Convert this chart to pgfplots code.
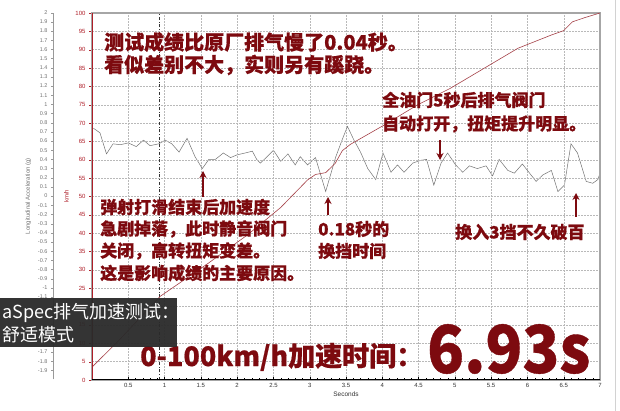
\documentclass[border=0pt]{standalone}
\usepackage{pgfplots}
\pgfplotsset{compat=1.18}
\usetikzlibrary{arrows.meta}
\usepackage{fontspec}
\setmainfont{Liberation Sans}
\newfontfamily\cjk{Noto Sans CJK SC}
\newfontfamily\cjkb{Noto Sans CJK SC}[BoldFeatures={FakeBold=0.6}]

\definecolor{anno}{RGB}{125,10,15}
\definecolor{speed}{RGB}{165,65,72}
\definecolor{axred}{RGB}{175,30,40}
\definecolor{boxgray}{RGB}{42,42,42}

\begin{document}
\begin{tikzpicture}
\useasboundingbox (0,0) rectangle (620pt,411pt);
\fill[white] (0,0) rectangle (620pt,411pt);

% acceleration axis (g)
\begin{axis}[
    at={(53pt,31.5pt)}, anchor=south west, scale only axis,
    width=547pt, height=366.8pt,
    xmin=-0.537, xmax=7, ymin=-2, ymax=2,
    axis x line=none, axis y line*=left,
    axis line style={gray!80, -},
    ytick={-1.9,-1.8,-1.7,-1.6,-1.5,-1.4,-1.3,-1.2,-1.1,-1,-0.9,-0.8,-0.7,-0.6,-0.5,-0.4,-0.3,-0.2,-0.1,0,0.1,0.2,0.3,0.4,0.5,0.6,0.7,0.8,0.9,1,1.1,1.2,1.3,1.4,1.5,1.6,1.7,1.8,1.9,2},
    yticklabel={\ifdim\tick pt<-1.15pt\ifdim\tick pt>-1.65pt\else\pgfmathprintnumber{\tick}\fi\else\pgfmathprintnumber{\tick}\fi},
    ytick align=outside, major tick length=2pt,
    tick style={gray!80},
    /pgf/number format/assume math mode=true,
    yticklabel style={font=\fontsize{5.5}{6}\selectfont, text=gray!90!black},
    ylabel={Longitudinal Acceleration (g)},
    ylabel style={font=\fontsize{6}{7}\selectfont, text=gray!90!black},
]
\addplot[gray!90!black, line width=0.5pt] coordinates {
(0.02,0.74) (0.11,0.69) (0.20,0.46) (0.29,0.57) (0.39,0.56) (0.50,0.58)
(0.61,0.54) (0.71,0.61) (0.80,0.55) (0.92,0.57) (1.01,0.61) (1.10,0.57)
(1.20,0.48) (1.31,0.63) (1.42,0.43) (1.52,0.30) (1.61,0.40) (1.70,0.40)
(1.81,0.47) (1.91,0.42) (2.00,0.45) (2.11,0.47) (2.21,0.49) (2.27,0.40)
(2.32,0.36) (2.40,0.42) (2.50,0.50) (2.60,0.38) (2.70,0.46) (2.80,0.34)
(2.87,0.43) (2.97,0.34) (3.08,0.42) (3.22,0.05) (3.36,0.43) (3.45,0.62)
(3.52,0.76) (3.61,0.61) (3.70,0.48) (3.80,0.30) (3.91,0.18) (4.01,0.47)
(4.12,0.26) (4.21,0.34) (4.30,0.26) (4.42,0.36) (4.53,0.39) (4.61,0.40)
(4.71,0.12) (4.81,0.36) (4.90,0.47) (5.01,0.34) (5.11,0.26) (5.20,0.33)
(5.31,0.30) (5.43,0.33) (5.52,0.22) (5.61,0.40) (5.73,0.28) (5.82,0.25)
(5.93,0.35) (6.03,0.25) (6.12,0.16) (6.21,0.23) (6.33,0.28) (6.42,0.05)
(6.51,0.12) (6.60,0.57) (6.69,0.47) (6.81,0.16) (6.90,0.14) (6.97,0.18)
(7.00,0.25)
};
\end{axis}

% speed axis (km/h)
\begin{axis}[
    at={(92pt,31pt)}, anchor=south west, scale only axis,
    width=508pt, height=367pt,
    xmin=0, xmax=7, ymin=0, ymax=100,
    axis line style={draw=gray!70, line width=1.4pt},
    xtick={0.5,1,...,7}, ytick={0,5,...,100},
    minor x tick num=4,
    xtick pos=lower, ytick pos=left,
    xtick align=inside, ytick align=outside,
    major tick length=3pt, minor tick length=2pt,
    x tick style={black}, y tick style={axred},
    grid=major,
    major grid style={gray!55, dash pattern=on 1.5pt off 1.5pt},
    /pgf/number format/assume math mode=true,
    xticklabel style={font=\fontsize{6}{7}\selectfont, text=black!80},
    yticklabel style={font=\fontsize{6}{7}\selectfont, text=axred},
    xlabel={Seconds},
    xlabel style={font=\fontsize{6.5}{7}\selectfont, text=black!80, yshift=3pt},
    ylabel={km/h},
    ylabel style={font=\fontsize{6}{7}\selectfont, text=axred},
]
\addplot[black!80, line width=0.5pt, dash dot] coordinates {(0.93,0) (0.93,100)};
\addplot[speed, line width=0.6pt] coordinates {
(0,3.5) (0.38,11) (0.94,22.8) (1.58,31.5) (2.14,39.5) (2.60,47) (2.97,54.5)
(3.08,56) (3.22,56.5) (3.35,59) (3.45,62.5) (3.56,64.2) (4.02,69.4)
(4.48,74.9) (4.94,79.5) (5.40,84.9) (5.87,90.4) (6.33,94) (6.50,95.2)
(6.62,97.6) (6.80,98.8) (7.00,100)
};
\draw[axred, line width=1.2pt] (rel axis cs:0,0) -- (rel axis cs:0,1);
\draw[black, line width=1.2pt] (rel axis cs:0,0) -- (rel axis cs:1,0);
\end{axis}

\draw[gray!35] (615pt,0) -- (615pt,411pt);

% annotations
\begin{scope}[every node/.style={anchor=west, inner sep=0pt, text=anno}]
\node[font=\cjkb\bfseries\fontsize{20}{24}\selectfont] at (104pt,369pt) {测试成绩比原厂排气慢了0.04秒。};
\node[font=\cjkb\bfseries\fontsize{20}{24}\selectfont] at (104pt,346pt) {看似差别不大，实则另有蹊跷。};
\node[font=\cjkb\bfseries\fontsize{17}{20}\selectfont] at (382pt,311pt) {全油门5秒后排气阀门};
\node[font=\cjkb\bfseries\fontsize{17}{20}\selectfont] at (382pt,287pt) {自动打开，扭矩提升明显。};
\node[font=\cjkb\bfseries\fontsize{17}{20}\selectfont] at (100pt,204pt) {弹射打滑结束后加速度};
\node[font=\cjkb\bfseries\fontsize{17}{20}\selectfont] at (100pt,182pt) {急剧掉落，此时静音阀门};
\node[font=\cjkb\bfseries\fontsize{17}{20}\selectfont] at (100pt,160pt) {关闭，高转扭矩变差。};
\node[font=\cjkb\bfseries\fontsize{17}{20}\selectfont] at (100pt,138pt) {这是影响成绩的主要原因。};
\node[font=\cjkb\bfseries\fontsize{17}{20}\selectfont] at (318pt,182pt) {0.18秒的};
\node[font=\cjkb\bfseries\fontsize{17}{20}\selectfont] at (318pt,160pt) {换挡时间};
\node[font=\cjkb\bfseries\fontsize{17}{20}\selectfont] at (455pt,179pt) {换入3挡不久破百};
\node[font=\cjkb\bfseries\fontsize{27}{30}\selectfont] at (140pt,54pt) {0-100km/h加速时间：};
\node[font=\cjkb\bfseries\fontsize{66}{70}\selectfont, xscale=0.92] at (427pt,62pt) {6.93s};
\end{scope}

\begin{scope}[anno, line width=1.6pt, -{Stealth[length=7pt,width=7pt]}]
\draw (440pt,271pt) -- (440pt,251pt);
\draw (203pt,214pt) -- (203pt,240pt);
\draw (328pt,196pt) -- (328pt,214pt);
\draw (576pt,194pt) -- (576pt,218pt);
\end{scope}

% caption box
\fill[boxgray, opacity=0.95] (0,64pt) rectangle (177pt,113pt);
\node[anchor=west, inner sep=0pt, text=white, font=\cjk\fontsize{18}{20}\selectfont] at (2pt,98pt) {aSpec排气加速测试：};
\node[anchor=west, inner sep=0pt, text=white, font=\cjk\fontsize{18}{20}\selectfont] at (2pt,76pt) {舒适模式};
\end{tikzpicture}
\end{document}
